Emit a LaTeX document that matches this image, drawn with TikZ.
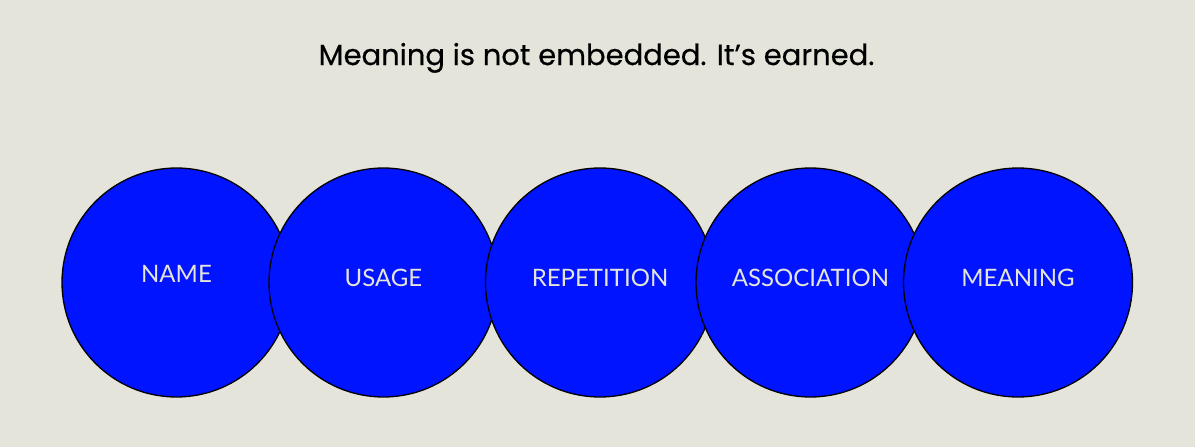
\documentclass[tikz,border=0pt]{standalone}
\usepackage{fontspec}
\setmainfont{Lato}
\newfontfamily\headfont{Poppins}[FakeBold=0.5]
\usetikzlibrary{positioning}
\definecolor{paper}{RGB}{228,228,218}
\definecolor{vividblue}{RGB}{0,20,255}
\tikzset
{
    bubble/.style   = {circle, draw=black, fill=vividblue, line width=1.3pt, minimum size=229pt, inner sep=0pt},
    tag/.style      = {text=paper, anchor=base, inner sep=0pt, font=\fontsize{24}{28}\selectfont},
    headline/.style = {text=black, anchor=base, inner sep=0pt, font=\headfont\fontsize{29}{34}\selectfont}
}
\begin{document}
\begin{tikzpicture}[x=1pt, y=-1pt]
	 \newcommand\BUBBLEY{282.5}
	 \newcommand\TAGDY{-4}

	 \fill[paper] (0,0) rectangle (1195,447);

	 \node (title)  [headline]  at (596.5, 65)           {Meaning is not embedded. It’s earned.};

	 % circles, each one drawn over the one before
	 \node (name)   [bubble]    at (176.5, \BUBBLEY)    {};
	 \node (usage)  [bubble]    at (383.5, \BUBBLEY)    {};
	 \node (rep)    [bubble]    at (600, \BUBBLEY)      {};
	 \node (assoc)  [bubble]    at (810.5, \BUBBLEY)    {};
	 \node (mean)   [bubble]    at (1018, \BUBBLEY)     {};

	 \node (namet)  [tag]       at ([yshift=0]name.center)         {NAME};
	 \node (usaget) [tag]       at ([yshift=\TAGDY]usage.center)   {USAGE};
	 \node (rept)   [tag]       at ([yshift=\TAGDY]rep.center)     {REPETITION};
	 \node (assoct) [tag]       at ([yshift=\TAGDY]assoc.center)   {ASSOCIATION};
	 \node (meant)  [tag]       at ([yshift=\TAGDY]mean.center)    {MEANING};
\end{tikzpicture}
\end{document}
